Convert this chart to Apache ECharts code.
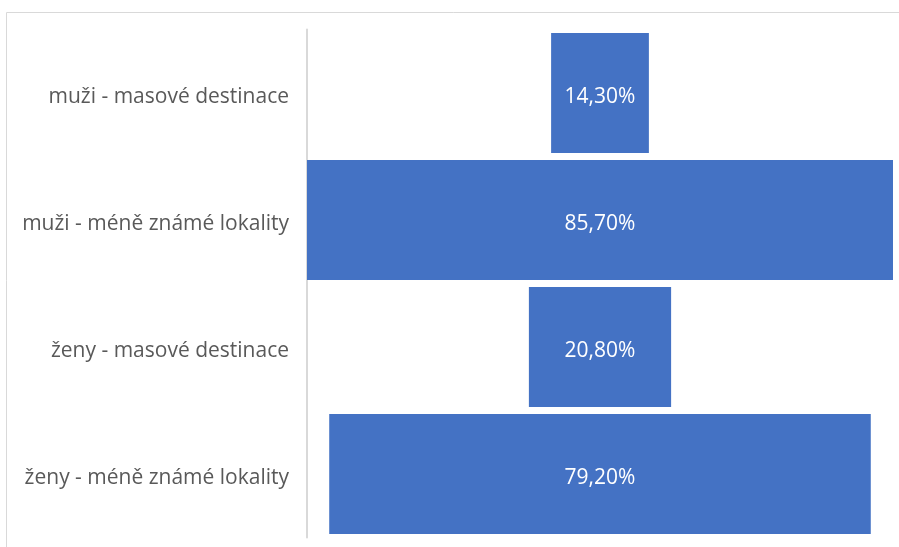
<!DOCTYPE html>
<html><head><meta charset="utf-8">
<script src="https://cdn.jsdelivr.net/npm/echarts@6/dist/echarts.min.js"></script>
<style>html,body{margin:0;padding:0;background:#fff}#c{width:899px;height:547px}</style>
</head><body><div id="c"></div>
<script>
const categories = ["muži - masové destinace", "muži - méně známé lokality", "ženy - masové destinace", "ženy - méně známé lokality"];
const values = [14.3, 85.7, 20.8, 79.2];
const maxVal = Math.max(...values);
const offsets = values.map(v => (maxVal - v) / 2);
const chart = echarts.init(document.getElementById('c'));
chart.setOption({
  animation: false,
  graphic: [{type: 'rect', shape: {x: 6.5, y: 12.5, width: 1000, height: 1000}, style: {fill: 'none', stroke: '#d9d9d9', lineWidth: 1}, silent: true, z: -10}],
  grid: {left: 307, right: 6, top: 29.5, bottom: 9.5, containLabel: false},
  xAxis: {type: 'value', min: 0, max: maxVal, show: false},
  yAxis: {
    type: 'category', data: categories, inverse: true,
    axisLine: {show: true, lineStyle: {color: '#d9d9d9', width: 2}},
    axisTick: {show: false},
    axisLabel: {color: '#595959', fontSize: 21, fontFamily: 'Open Sans', margin: 18,
      formatter: v => '{a|' + v + '}',
      rich: {a: {color: '#595959', fontSize: 21, fontFamily: 'Open Sans', padding: [8, 0, 0, 0]}}}
  },
  series: [
    {type: 'bar', stack: 's', data: offsets, itemStyle: {color: 'transparent'}, barCategoryGap: '5.5%', silent: true},
    {type: 'bar', stack: 's', data: values, itemStyle: {color: '#4472C4'}, barCategoryGap: '5.5%',
     label: {show: true, position: 'inside', offset: [0, 4], color: '#fff', fontSize: 21, fontFamily: 'Open Sans',
       formatter: p => p.value.toFixed(2).replace('.', ',') + '%'}}
  ]
});
</script></body></html>
